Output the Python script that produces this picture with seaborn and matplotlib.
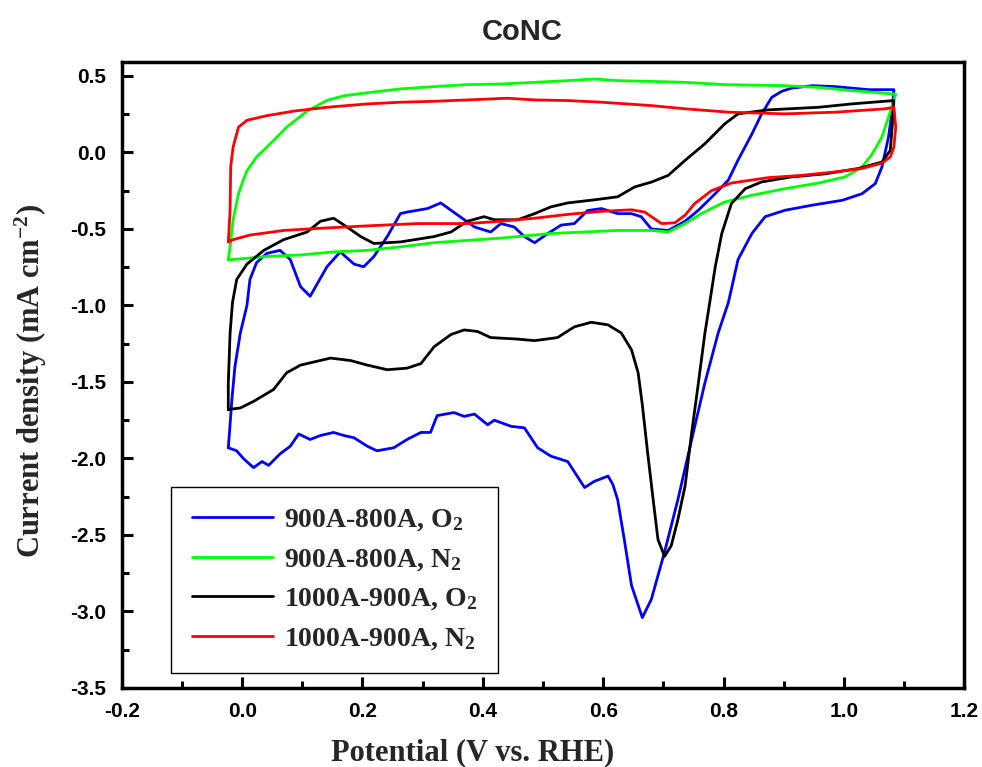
import pandas as pd
import seaborn as sns
import matplotlib.pyplot as plt
from matplotlib.ticker import MultipleLocator

sns.set_style("ticks")
plt.rcParams['font.family'] = ['Liberation Serif', 'DejaVu Serif']
plt.rcParams['mathtext.fontset'] = 'custom'
plt.rcParams['mathtext.rm'] = 'Liberation Serif:bold'
plt.rcParams['mathtext.bf'] = 'Liberation Serif:bold'
plt.rcParams['mathtext.default'] = 'bf'
plt.rcParams['axes.unicode_minus'] = False

# 900A-800A, O2 (blue)
blue_x = [-0.023, -0.009, 0.002, 0.019, 0.033, 0.044, 0.063, 0.08, 0.094, 0.113, 0.13, 0.152, 0.169,
          0.186, 0.208, 0.224, 0.252, 0.274, 0.297, 0.313, 0.324, 0.352, 0.369, 0.386, 0.408, 0.419,
          0.447, 0.469, 0.491, 0.513, 0.541, 0.569, 0.585, 0.608, 0.616, 0.624, 0.635, 0.647, 0.665,
          0.68, 0.702, 0.724, 0.747, 0.769, 0.791, 0.808, 0.824, 0.847, 0.869, 0.902, 0.947, 0.997,
          1.03, 1.052, 1.063, 1.074, 1.08, 1.083, 1.041, 0.986, 0.947, 0.913, 0.897, 0.88, 0.863,
          0.847, 0.824, 0.808, 0.786, 0.758, 0.736, 0.708, 0.68, 0.663, 0.647, 0.624, 0.597, 0.574,
          0.552, 0.53, 0.508, 0.486, 0.469, 0.452, 0.43, 0.413, 0.386, 0.347, 0.33, 0.308, 0.274,
          0.263, 0.241, 0.219, 0.202, 0.186, 0.163, 0.141, 0.113, 0.097, 0.08, 0.063, 0.041, 0.024,
          0.013, 0.008, -0.003, -0.012, -0.017, -0.021, -0.023]
blue_y = [-1.93, -1.95, -2.0, -2.06, -2.02, -2.045, -1.97, -1.92, -1.84, -1.876, -1.85, -1.83, -1.85,
          -1.865, -1.92, -1.95, -1.93, -1.876, -1.83, -1.83, -1.72, -1.70, -1.725, -1.71, -1.78, -1.75,
          -1.79, -1.80, -1.93, -1.985, -2.02, -2.19, -2.15, -2.115, -2.17, -2.27, -2.53, -2.83, -3.04,
          -2.92, -2.61, -2.27, -1.876, -1.505, -1.18, -0.98, -0.70, -0.53, -0.42, -0.378, -0.345, -0.313,
          -0.27, -0.204, -0.096, 0.10, 0.27, 0.41, 0.41, 0.43, 0.436, 0.42, 0.40, 0.36, 0.25,
          0.12, -0.05, -0.18, -0.27, -0.378, -0.45, -0.51, -0.50, -0.42, -0.40, -0.40, -0.367, -0.38,
          -0.465, -0.475, -0.53, -0.59, -0.55, -0.487, -0.465, -0.52, -0.487, -0.378, -0.33, -0.367, -0.39,
          -0.40, -0.55, -0.68, -0.747, -0.73, -0.65, -0.747, -0.94, -0.877, -0.70, -0.64, -0.66, -0.72,
          -0.83, -1.0, -1.18, -1.40, -1.615, -1.83, -1.93]

# 900A-800A, N2 (green)
green_x = [-0.023, -0.02, -0.015, -0.006, 0.002, 0.008, 0.024, 0.047, 0.074, 0.108, 0.141, 0.169, 0.208,
           0.263, 0.319, 0.374, 0.43, 0.486, 0.541, 0.585, 0.624, 0.68, 0.736, 0.802, 0.902, 0.958,
           1.013, 1.069, 1.086, 1.074, 1.063, 1.047, 1.03, 1.002, 0.958, 0.902, 0.847, 0.802, 0.763,
           0.736, 0.708, 0.68, 0.624, 0.569, 0.513, 0.43, 0.319, 0.263, 0.208, 0.152, 0.097, 0.041,
           -0.015, -0.023]
green_y = [-0.70, -0.62, -0.44, -0.27, -0.18, -0.12, -0.03, 0.057, 0.165, 0.27, 0.34, 0.37, 0.39,
           0.415, 0.43, 0.443, 0.447, 0.458, 0.469, 0.48, 0.469, 0.464, 0.458, 0.443, 0.436, 0.425,
           0.404, 0.386, 0.38, 0.23, 0.10, -0.01, -0.096, -0.16, -0.20, -0.237, -0.28, -0.324, -0.40,
           -0.465, -0.52, -0.51, -0.51, -0.52, -0.53, -0.56, -0.59, -0.617, -0.64, -0.65, -0.67, -0.68,
           -0.70, -0.70]

# 1000A-900A, O2 (black)
black_x = [-0.023, -0.003, 0.019, 0.052, 0.074, 0.097, 0.147, 0.18, 0.208, 0.241, 0.274, 0.297, 0.319,
           0.347, 0.369, 0.391, 0.413, 0.458, 0.486, 0.524, 0.552, 0.58, 0.608, 0.63, 0.647, 0.658,
           0.665, 0.674, 0.683, 0.691, 0.702, 0.713, 0.724, 0.736, 0.747, 0.758, 0.769, 0.777, 0.786,
           0.797, 0.813, 0.836, 0.863, 0.913, 0.969, 1.024, 1.063, 1.077, 1.08, 1.083, 1.013, 0.958,
           0.874, 0.824, 0.802, 0.769, 0.736, 0.708, 0.68, 0.652, 0.624, 0.585, 0.541, 0.513, 0.486,
           0.458, 0.419, 0.402, 0.374, 0.347, 0.319, 0.263, 0.219, 0.197, 0.174, 0.152, 0.13, 0.108,
           0.069, 0.036, 0.008, -0.009, -0.016, -0.02, -0.023, -0.023]
black_y = [-1.68, -1.67, -1.627, -1.55, -1.44, -1.39, -1.344, -1.36, -1.39, -1.42, -1.41, -1.38, -1.27,
           -1.19, -1.16, -1.17, -1.21, -1.22, -1.23, -1.21, -1.14, -1.11, -1.127, -1.18, -1.29, -1.44,
           -1.65, -1.97, -2.27, -2.53, -2.64, -2.57, -2.40, -2.18, -1.83, -1.51, -1.18, -0.98, -0.75,
           -0.53, -0.334, -0.237, -0.193, -0.16, -0.14, -0.105, -0.063, 0.013, 0.165, 0.339, 0.317, 0.295,
           0.278, 0.252, 0.187, 0.057, -0.052, -0.15, -0.194, -0.226, -0.29, -0.31, -0.33, -0.356, -0.40,
           -0.44, -0.44, -0.42, -0.45, -0.52, -0.55, -0.585, -0.595, -0.55, -0.487, -0.43, -0.45, -0.52,
           -0.57, -0.64, -0.73, -0.83, -0.98, -1.18, -1.51, -1.68]

# 1000A-900A, N2 (red)
red_x = [-0.023, -0.02, -0.019, -0.015, -0.006, 0.008, 0.041, 0.086, 0.141, 0.208, 0.263, 0.319, 0.374,
         0.441, 0.486, 0.541, 0.597, 0.68, 0.736, 0.808, 0.902, 0.986, 1.069, 1.083, 1.086, 1.083,
         1.077, 1.063, 1.03, 0.986, 0.93, 0.874, 0.813, 0.78, 0.752, 0.736, 0.719, 0.697, 0.68, 0.669,
         0.647, 0.597, 0.541, 0.486, 0.43, 0.374, 0.291, 0.208, 0.124, 0.069, 0.013, -0.015, -0.023]
red_y = [-0.585, -0.38, -0.095, 0.035, 0.165, 0.21, 0.24, 0.27, 0.295, 0.317, 0.328, 0.334, 0.343,
         0.354, 0.343, 0.339, 0.328, 0.306, 0.285, 0.263, 0.252, 0.263, 0.285, 0.295, 0.165, 0.035,
         -0.03, -0.07, -0.105, -0.127, -0.15, -0.165, -0.2, -0.25, -0.334, -0.41, -0.46, -0.465, -0.42,
         -0.39, -0.375, -0.385, -0.405, -0.43, -0.45, -0.465, -0.465, -0.48, -0.497, -0.51, -0.54, -0.57,
         -0.585]

curves = [
    ("900A-800A, O$_2$", blue_x, blue_y, "#0000ff"),
    ("900A-800A, N$_2$", green_x, green_y, "#00ff00"),
    ("1000A-900A, O$_2$", black_x, black_y, "#000000"),
    ("1000A-900A, N$_2$", red_x, red_y, "#ff0000"),
]

fig = plt.figure(figsize=(9.82, 7.67), dpi=100)
ax = fig.add_axes([0.124, 0.103, 0.858, 0.816])

for label, xs, ys, color in curves:
    df = pd.DataFrame({"Potential": xs, "Current": ys})
    sns.lineplot(data=df, x="Potential", y="Current", sort=False, estimator=None,
                 color=color, lw=2, label=label, ax=ax)

ax.set_xlim(-0.2, 1.2)
ax.set_ylim(-3.5, 0.59)
ax.xaxis.set_major_locator(MultipleLocator(0.2))
ax.xaxis.set_minor_locator(MultipleLocator(0.1))
ax.yaxis.set_major_locator(MultipleLocator(0.5))
ax.yaxis.set_minor_locator(MultipleLocator(0.25))
ax.tick_params(which='both', direction='in', top=False, right=False, width=2.2, colors='black')
ax.tick_params(which='major', length=8)
ax.tick_params(which='minor', length=5)
ax.tick_params(axis='x', which='major', pad=10, labelsize=15)
ax.tick_params(axis='y', which='major', pad=11, labelsize=15)
for spine in ax.spines.values():
    spine.set_linewidth(2.5)
    spine.set_color('black')

for lab in ax.get_xticklabels() + ax.get_yticklabels():
    lab.set_fontfamily(['Liberation Sans', 'DejaVu Sans'])
    lab.set_fontweight('bold')

ax.set_xlabel("Potential (V vs. RHE)", fontsize=22, fontweight='bold')
ax.set_ylabel("Current density (mA cm$^{-2}$)", fontsize=22, fontweight='bold')
ax.xaxis.set_label_coords(0.417, -0.08)
ax.yaxis.set_label_coords(-0.086, 0.49)

fig.text(0.532, 0.958, "CoNC", ha='center', va='center', fontsize=21, fontweight='bold',
         family=['Liberation Sans', 'DejaVu Sans'])

leg = ax.legend(loc='lower left', bbox_to_anchor=(0.059, 0.024), borderaxespad=0,
                frameon=True, fancybox=False, edgecolor='black', framealpha=1,
                handlelength=2.9, handletextpad=0.4, labelspacing=0.5, borderpad=0.75,
                prop={'family': ['Liberation Serif'], 'weight': 'bold', 'size': 20})
leg.get_frame().set_linewidth(1.0)

fig.savefig("out.png", dpi=100)
